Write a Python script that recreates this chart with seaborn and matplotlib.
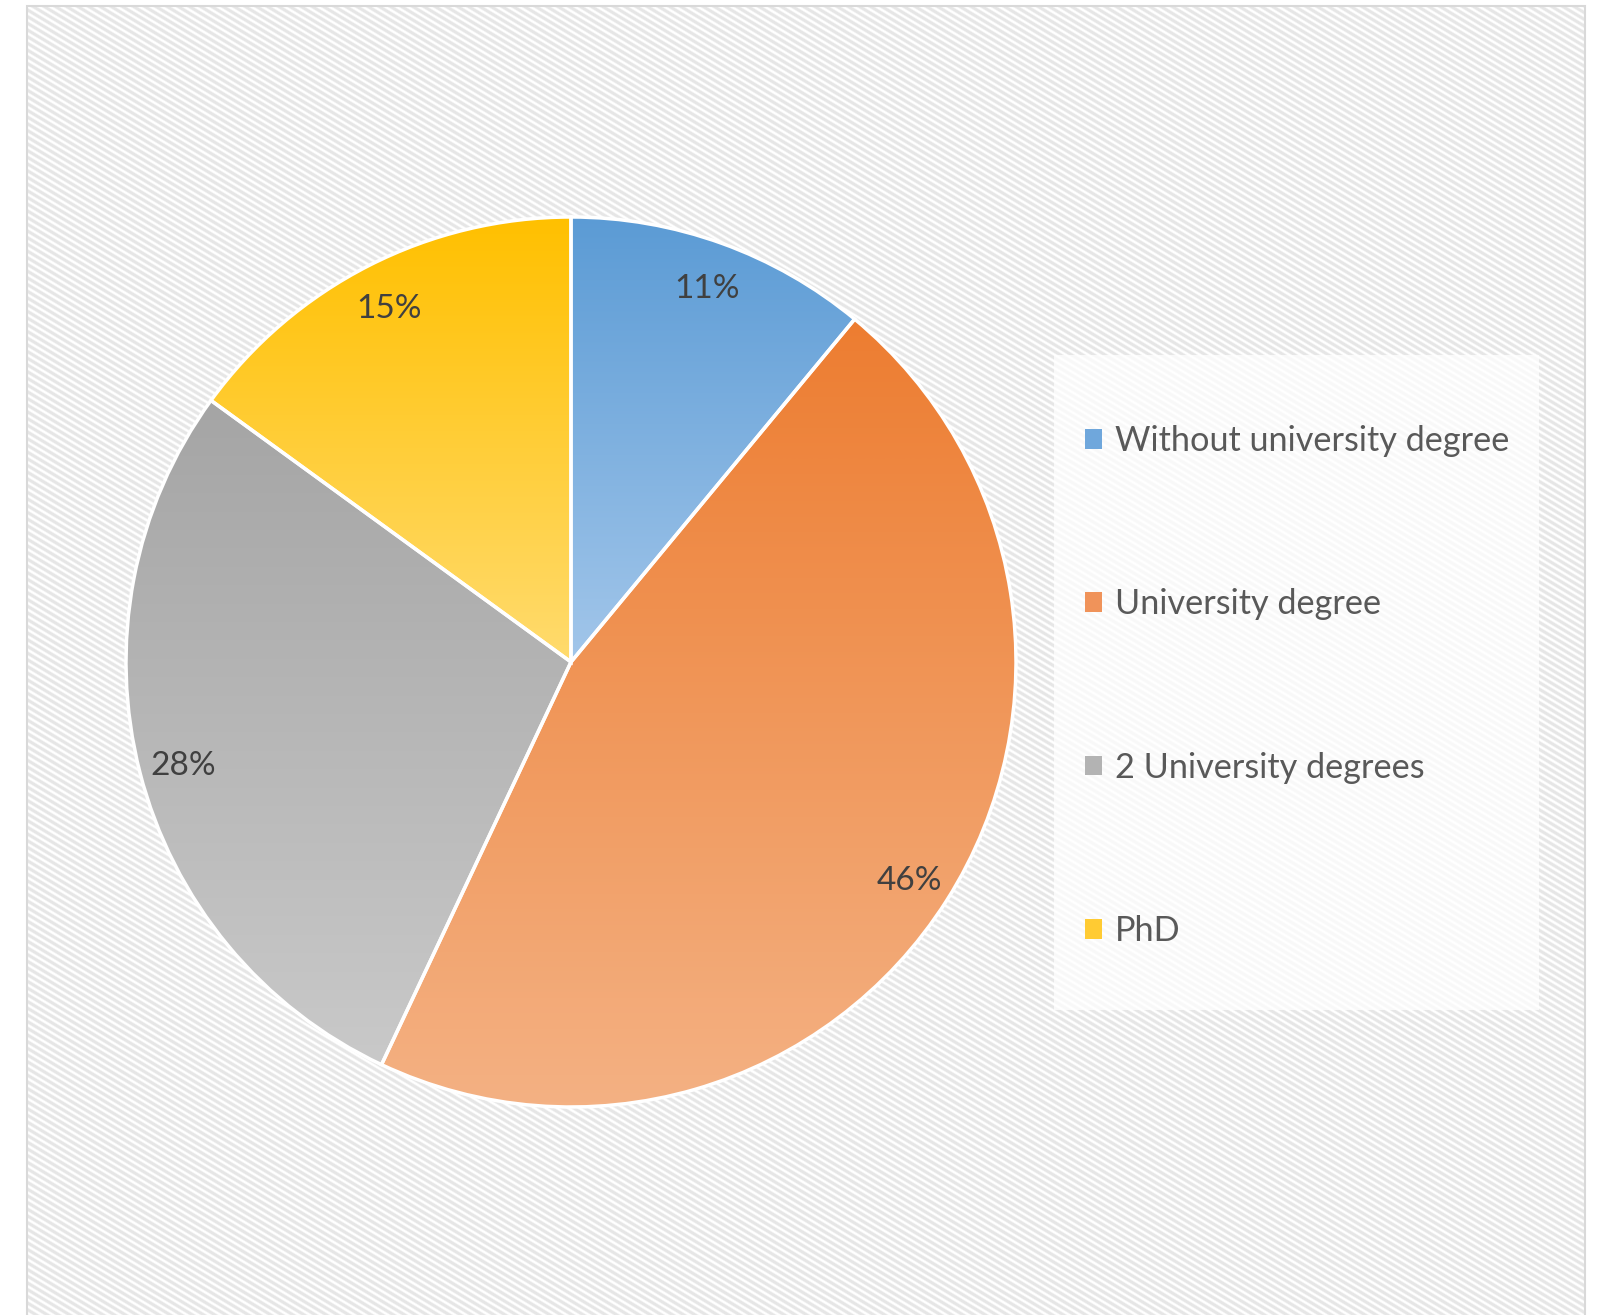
import numpy as np
import matplotlib
matplotlib.use("Agg")
import matplotlib.pyplot as plt
import seaborn as sns
from matplotlib.colors import LinearSegmentedColormap, to_rgb
from matplotlib.patches import Patch, Rectangle

# Education level of respondents
categories = ["Without university degree", "University degree", "2 University degrees", "PhD"]
shares = [11, 46, 28, 15]
top_colors = ["#5B9BD5", "#ED7D31", "#A5A5A5", "#FFC000"]
bottom_colors = ["#A2C6EA", "#F4B183", "#C9C9C9", "#FFDB6E"]
legend_colors = ["#6FA7DC", "#F0935A", "#B3B3B3", "#FFCB33"]

sns.set_theme(style="white")
plt.rcParams["font.family"] = ["Lato", "DejaVu Sans"]

W, H = 1600, 1315
fig = plt.figure(figsize=(W / 100, H / 100), dpi=100)


def fx(px):
    return px / W


def fy(py):
    return 1 - py / H


# chart area: fine diagonal stripe texture
x0, x1, y0, y1 = 27, 1585, 6, 1330
bg = fig.add_axes([fx(x0), fy(y1), fx(x1) - fx(x0), fy(y0) - fy(y1)])
bg.set_zorder(-3)
yy, xx = np.mgrid[0:(y1 - y0), 0:(x1 - x0)].astype(float)
phase = ((yy - 0.6 * xx) / 6.7) % 1.0
stripe = np.clip(np.abs(phase - 0.5) * 4 - 0.6, 0, 1)  # 0 = dark, 1 = light
light, dark = np.array(to_rgb("#FFFFFF")), np.array(to_rgb("#E6E6E6"))
tex = dark[None, None, :] + (light - dark)[None, None, :] * stripe[..., None]
bg.imshow(tex, aspect="auto", interpolation="antialiased")
bg.axis("off")

fig.patches.append(Rectangle((fx(x0), fy(y1)), fx(x1) - fx(x0), fy(y0) - fy(y1),
                             transform=fig.transFigure, facecolor="none",
                             edgecolor="#D9D9D9", linewidth=1.5, zorder=-2))

# legend panel (semi-transparent white)
fig.patches.append(Rectangle((fx(1054), fy(1010)), fx(1539) - fx(1054), fy(355) - fy(1010),
                             transform=fig.transFigure, facecolor="white", alpha=0.75,
                             edgecolor="none", zorder=-1))

# pie
ax = fig.add_axes([fx(126) - 5 / W, fy(1107) - 5 / H, 900 / W, 900 / H])
ax.set_zorder(2)
ax.patch.set_visible(False)
lim = 450 / 445
wedges, texts, autotexts = ax.pie(
    shares, startangle=90, counterclock=False,
    autopct=lambda p: f"{p:.0f}%", pctdistance=0.9,
    wedgeprops=dict(edgecolor="white", linewidth=2.5),
    textprops=dict(color="#404040", fontsize=24),
)

for w, c0, c1 in zip(wedges, top_colors, bottom_colors):
    bb = w.get_path().get_extents()
    grad = np.linspace(0, 1, 256).reshape(-1, 1)
    cmap = LinearSegmentedColormap.from_list("g", [c0, c1])
    im = ax.imshow(grad, cmap=cmap, extent=[bb.x0, bb.x1, bb.y0, bb.y1],
                   origin="upper", aspect="auto", interpolation="bilinear", zorder=2)
    im.set_clip_path(w)
    w.set_facecolor("none")
    w.set_zorder(3)

for t in autotexts:
    tx, ty = t.get_position()
    t.set_position((tx, ty - 0.009))
    t.set_zorder(4)

ax.set_xlim(-lim, lim)
ax.set_ylim(-lim, lim)
ax.set_aspect("equal")
ax.axis("off")

handles = [Patch(facecolor=c, edgecolor="none") for c in legend_colors]
leg = fig.legend(handles, categories, loc="upper left",
                 bbox_to_anchor=(fx(1085), fy(425)), frameon=False,
                 fontsize=24.7, labelcolor="#595959",
                 handlelength=0.5, handleheight=0.5, handletextpad=0.38,
                 labelspacing=3.83, borderpad=0, borderaxespad=0)
leg.set_zorder(3)

fig.savefig("out.png", dpi=100, facecolor="white")
